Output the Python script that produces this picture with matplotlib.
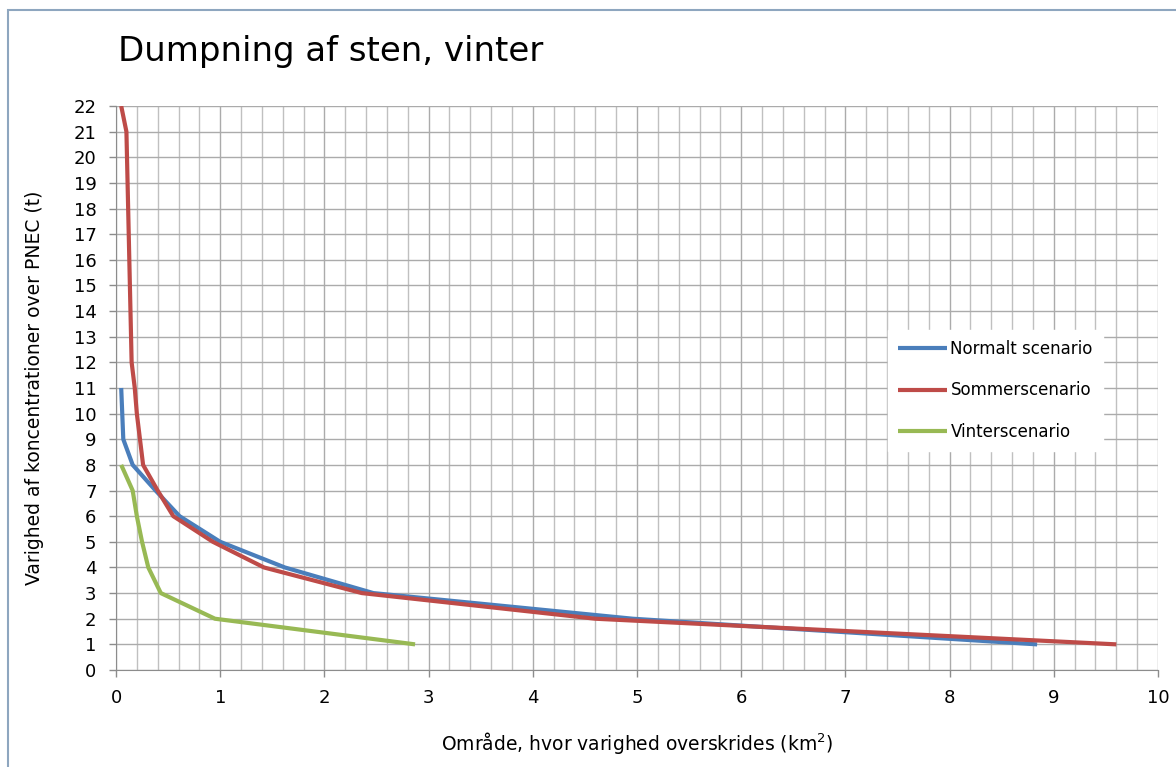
import matplotlib

matplotlib.use("Agg")
import matplotlib.pyplot as plt  # noqa: E402
from matplotlib.patches import Rectangle  # noqa: E402
from matplotlib.ticker import MultipleLocator  # noqa: E402

# --- data ---
normal_x = [0.05, 0.07, 0.16, 0.38, 0.61, 1.0, 1.62, 2.47, 4.96, 8.84]
normal_y = [11, 9, 8, 7, 6, 5, 4, 3, 2, 1]

sommer_x = [0.05, 0.1, 0.15, 0.18, 0.2, 0.23, 0.26, 0.4, 0.55, 0.93, 1.42, 2.36, 4.6, 9.6]
sommer_y = [22, 21, 12, 11, 10, 9, 8, 7, 6, 5, 4, 3, 2, 1]

vinter_x = [0.05, 0.16, 0.2, 0.25, 0.31, 0.43, 0.95, 2.87]
vinter_y = [8, 7, 6, 5, 4, 3, 2, 1]

labels = ["Normalt scenario", "Sommerscenario", "Vinterscenario"]
colors = ["#4a7ebb", "#be4b48", "#98b954"]

W, H = 1176, 767
fig = plt.figure(figsize=(W / 100, H / 100), dpi=100)
fig.patch.set_facecolor("white")

# outer frame of the chart object (cropped on right/bottom)
fig.patches.append(Rectangle((8 / W, -0.05), 1.2, 1 - 10 / H + 0.05,
                             transform=fig.transFigure, fill=False,
                             edgecolor="#8ea6bf", lw=1.5))

ax = fig.add_axes([116 / W, 1 - 670 / H, (1158 - 116) / W, (670 - 106) / H])

for xs, ys, lab, c in zip([normal_x, sommer_x, vinter_x],
                          [normal_y, sommer_y, vinter_y], labels, colors):
    ax.plot(xs, ys, color=c, lw=3.0, label=lab, solid_capstyle="butt", zorder=3)

ax.set_xlim(0, 10)
ax.set_ylim(0, 22)
ax.xaxis.set_major_locator(MultipleLocator(1))
ax.xaxis.set_minor_locator(MultipleLocator(0.2))
ax.yaxis.set_major_locator(MultipleLocator(1))
ax.grid(which="major", color="#ababab", lw=1.0, zorder=0)
ax.grid(which="minor", axis="x", color="#c0c0c0", lw=1.0, zorder=0)
ax.tick_params(which="major", length=5, width=1, color="#8c8c8c", labelsize=13)
ax.tick_params(axis="x", pad=9)
ax.tick_params(axis="y", pad=9)
ax.tick_params(which="minor", length=0)
for s in ["top", "right"]:
    ax.spines[s].set_visible(False)
for s in ["left", "bottom"]:
    ax.spines[s].set_color("#8c8c8c")

ax.set_xlabel("Område, hvor varighed overskrides (km$^2$)", fontsize=13.5, labelpad=16)
ax.set_ylabel("Varighed af koncentrationer over PNEC (t)", fontsize=13.5, labelpad=21)

fig.text(118 / W, 1 - 52 / H, "Dumpning af sten, vinter", fontsize=24.5,
         ha="left", va="center")

leg = ax.legend(loc="upper left",
                bbox_to_anchor=((888 - 116) / (1158 - 116), (670 - 330) / (670 - 106)),
                frameon=True, fontsize=12, handlelength=2.95, handletextpad=0.2,
                labelspacing=1.4, borderpad=0.6, borderaxespad=0, fancybox=False)
leg.get_frame().set_edgecolor("white")
leg.get_frame().set_facecolor("white")
leg.get_frame().set_alpha(1)

fig.savefig("out.png", dpi=100, facecolor="white")
